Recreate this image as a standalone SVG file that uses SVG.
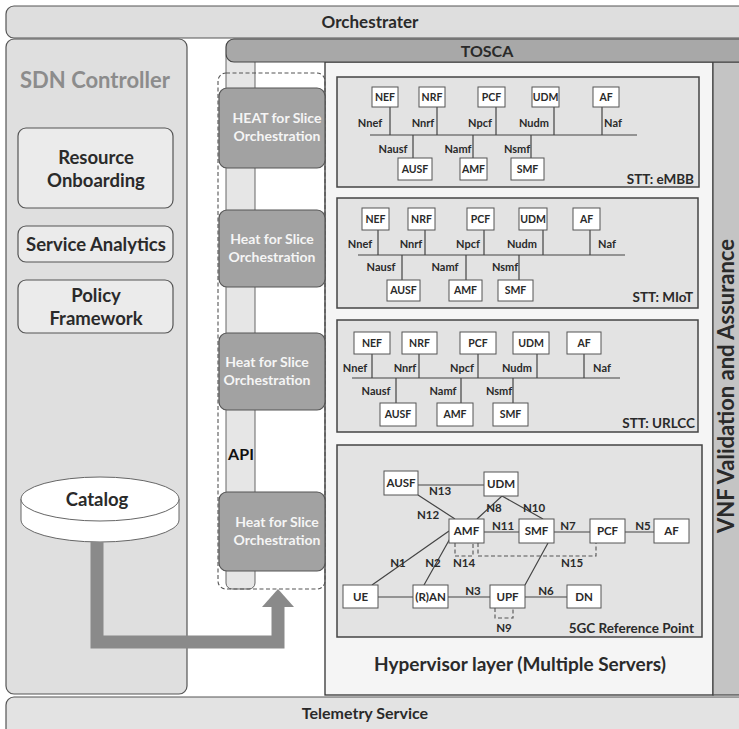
<svg xmlns="http://www.w3.org/2000/svg" width="739" height="729" viewBox="0 0 739 729">
<defs>
<style>
text{font-family:Lato,"Open Sans","Liberation Sans",sans-serif;font-weight:700;text-anchor:middle;fill:#2a2a2a;stroke:none}
.bar{fill:#dedede;stroke:#555;stroke-width:1.2}
.sdn{fill:#dfdfdf;stroke:#555;stroke-width:1.2}
.inbox{fill:#ebebeb;stroke:#555;stroke-width:1.2}
.heat rect{fill:#a2a2a2;stroke:#555;stroke-width:1.2}
.heat text{fill:#f5f5f5;font-size:14px}
.slice{fill:#e3e3e3;stroke:#444;stroke-width:1.5}
.nf{fill:#fff;stroke:#555;stroke-width:1}
.nft{font-size:10.5px}
.lbl{font-size:11px}
.ln{stroke:#444;stroke-width:1.2;fill:none}
.dash{stroke:#555;stroke-width:1.1;fill:none;stroke-dasharray:4 2.5}
.stt{font-size:13.5px;text-anchor:end}
.g5 .nft,.g5t{font-size:11.5px}
</style>
</defs>
<rect width="739" height="729" fill="#fff"/>

<g id="orchestrater">
<rect class="bar" x="6" y="6" width="745" height="32" rx="8"/>
<text x="370" y="28" font-size="17">Orchestrater</text>
</g>

<g id="telemetry">
<rect class="bar" x="6" y="697" width="745" height="40" rx="8" style="fill:#e3e3e3"/>
<text x="365" y="719" font-size="16">Telemetry Service</text>
</g>

<g id="sdn-controller">
<rect class="sdn" x="6" y="39" width="181" height="655" rx="8"/>
<text x="95" y="88" font-size="22" style="fill:#8c8c8c">SDN Controller</text>
</g>
<g id="resource-onboarding">
<rect class="inbox" x="18" y="128" width="155" height="80" rx="8"/>
<text x="96" y="164" font-size="18.5">Resource</text>
<text x="96" y="187" font-size="18.5">Onboarding</text>
</g>
<g id="service-analytics">
<rect class="inbox" x="18" y="226" width="155" height="36" rx="8"/>
<text x="96" y="250.5" font-size="18.5">Service Analytics</text>
</g>
<g id="policy-framework">
<rect class="inbox" x="18" y="280" width="155" height="53" rx="8"/>
<text x="96" y="301.5" font-size="18.5">Policy</text>
<text x="96" y="324.5" font-size="18.5">Framework</text>
</g>
<g id="catalog">
<path d="M21,499 V520 A79,22 0 0 0 179,520 V499" fill="#fff" stroke="#666" stroke-width="1"/>
<ellipse cx="100" cy="499" rx="79" ry="22" fill="#fff" stroke="#666" stroke-width="1"/>
<text x="97" y="506" font-size="18.5">Catalog</text>
</g>

<g id="api">
<rect x="226" y="50" width="29" height="539" rx="6" fill="#e6e6e6" stroke="#666" stroke-width="1"/>
<text x="241" y="460" font-size="16" style="fill:#111">API</text>
</g>

<g id="hypervisor">
<rect x="325" y="62" width="388" height="633" fill="#f5f5f5" stroke="#333" stroke-width="1.3"/>
<text x="520" y="671" font-size="19">Hypervisor layer (Multiple Servers)</text>
</g>

<g id="vnf">
<rect x="713" y="62" width="30" height="633" fill="#c4c4c4" stroke="#444" stroke-width="1.2"/>
<text transform="translate(734,386) rotate(-90)" font-size="22">VNF Validation and Assurance</text>
</g>

<g id="tosca">
<rect x="226" y="39" width="525" height="23" rx="8" fill="#a8a8a8" stroke="#444" stroke-width="1.2"/>
<text x="487" y="57" font-size="16">TOSCA</text>
</g>

<rect id="heat-group" x="218" y="73" width="107" height="516" rx="8" class="dash"/>

<g id="heat1" class="heat">
<rect x="219" y="88" width="106" height="80" rx="8"/>
<text x="277" y="123">HEAT for Slice</text>
<text x="277" y="141">Orchestration</text>
</g>
<g id="heat2" class="heat">
<rect x="219" y="210" width="106" height="77" rx="8"/>
<text x="272" y="244">Heat for Slice</text>
<text x="272" y="262">Orchestration</text>
</g>
<g id="heat3" class="heat">
<rect x="219" y="333" width="106" height="77" rx="8"/>
<text x="267" y="367">Heat for Slice</text>
<text x="267" y="385">Orchestration</text>
</g>
<g id="heat4" class="heat">
<rect x="219" y="492" width="106" height="79" rx="8"/>
<text x="277" y="527">Heat for Slice</text>
<text x="277" y="545">Orchestration</text>
</g>

<g id="catalog-arrow">
<path d="M97,542 V642 H278 V605" fill="none" stroke="#8a8a8a" stroke-width="13"/>
<polygon points="262,607 294,607 278,589" fill="#8a8a8a"/>
</g>

<!-- eMBB slice -->
<g id="slice-embb">
<rect class="slice" x="337" y="77" width="362" height="110"/>
<text class="stt" x="694" y="184">STT: eMBB</text>
</g>
<g id="embb-connectors">
<path class="ln" d="M370,135 H637 M390,107 V135 M437,107 V135 M496,107 V135 M554,107 V135 M602,107 V135 M413,135 V158 M473,135 V158 M531,135 V158"/>
<text class="lbl" x="370" y="127">Nnef</text><text class="lbl" x="423" y="127">Nnrf</text><text class="lbl" x="480" y="127">Npcf</text><text class="lbl" x="534" y="127">Nudm</text><text class="lbl" x="613" y="127">Naf</text>
<text class="lbl" x="393" y="153">Nausf</text><text class="lbl" x="458" y="153">Namf</text><text class="lbl" x="517" y="153">Nsmf</text>
</g>
<g id="embb-nef"><rect class="nf" x="372" y="87" width="26" height="20"/><text class="nft" x="385" y="100.5">NEF</text></g>
<g id="embb-nrf"><rect class="nf" x="419" y="87" width="26" height="20"/><text class="nft" x="432" y="100.5">NRF</text></g>
<g id="embb-pcf"><rect class="nf" x="478" y="87" width="27" height="20"/><text class="nft" x="491.5" y="100.5">PCF</text></g>
<g id="embb-udm"><rect class="nf" x="532" y="87" width="27" height="20"/><text class="nft" x="545.5" y="100.5">UDM</text></g>
<g id="embb-af"><rect class="nf" x="593" y="87" width="26" height="20"/><text class="nft" x="606" y="100.5">AF</text></g>
<g id="embb-ausf"><rect class="nf" x="398" y="158" width="34" height="22"/><text class="nft" x="415" y="172.5">AUSF</text></g>
<g id="embb-amf"><rect class="nf" x="460" y="158" width="27" height="22"/><text class="nft" x="473.5" y="172.5">AMF</text></g>
<g id="embb-smf"><rect class="nf" x="511" y="158" width="33" height="22"/><text class="nft" x="527.5" y="172.5">SMF</text></g>

<!-- MIoT slice -->
<g id="slice-miot">
<rect class="slice" x="337" y="198" width="361" height="110"/>
<text class="stt" x="693" y="302">STT: MIoT</text>
</g>
<g id="miot-connectors">
<path class="ln" d="M358,255 H625 M378,230 V255 M425,230 V255 M484,230 V255 M543,230 V255 M590,230 V255 M402,255 V280 M466,255 V280 M519,255 V280"/>
<text class="lbl" x="360" y="247.5">Nnef</text><text class="lbl" x="411" y="247.5">Nnrf</text><text class="lbl" x="468" y="247.5">Npcf</text><text class="lbl" x="522" y="247.5">Nudm</text><text class="lbl" x="607" y="247.5">Naf</text>
<text class="lbl" x="381" y="270.5">Nausf</text><text class="lbl" x="445" y="270.5">Namf</text><text class="lbl" x="505" y="270.5">Nsmf</text>
</g>
<g id="miot-nef"><rect class="nf" x="362" y="208" width="27" height="22"/><text class="nft" x="375.5" y="222.5">NEF</text></g>
<g id="miot-nrf"><rect class="nf" x="408" y="208" width="27" height="22"/><text class="nft" x="421.5" y="222.5">NRF</text></g>
<g id="miot-pcf"><rect class="nf" x="467" y="208" width="27" height="22"/><text class="nft" x="480.5" y="222.5">PCF</text></g>
<g id="miot-udm"><rect class="nf" x="519" y="208" width="28" height="22"/><text class="nft" x="533" y="222.5">UDM</text></g>
<g id="miot-af"><rect class="nf" x="573" y="208" width="27" height="22"/><text class="nft" x="586.5" y="222.5">AF</text></g>
<g id="miot-ausf"><rect class="nf" x="387" y="280" width="33" height="21"/><text class="nft" x="403.5" y="294">AUSF</text></g>
<g id="miot-amf"><rect class="nf" x="449" y="280" width="33" height="21"/><text class="nft" x="465.5" y="294">AMF</text></g>
<g id="miot-smf"><rect class="nf" x="498" y="280" width="35" height="21"/><text class="nft" x="515.5" y="294">SMF</text></g>

<!-- URLCC slice -->
<g id="slice-urlcc">
<rect class="slice" x="337" y="320" width="361" height="112"/>
<text class="stt" x="695" y="428">STT: URLCC</text>
</g>
<g id="urlcc-connectors">
<path class="ln" d="M352,378 H620 M372,354 V378 M419,354 V378 M478,354 V378 M537,354 V378 M584,354 V378 M396,378 V403 M461,378 V403 M513,378 V403"/>
<text class="lbl" x="355" y="371.5">Nnef</text><text class="lbl" x="405" y="371.5">Nnrf</text><text class="lbl" x="462" y="371.5">Npcf</text><text class="lbl" x="517" y="371.5">Nudm</text><text class="lbl" x="602" y="371.5">Naf</text>
<text class="lbl" x="376" y="394.5">Nausf</text><text class="lbl" x="443" y="394.5">Namf</text><text class="lbl" x="499" y="394.5">Nsmf</text>
</g>
<g id="urlcc-nef"><rect class="nf" x="354" y="332" width="36" height="22"/><text class="nft" x="372" y="346.5">NEF</text></g>
<g id="urlcc-nrf"><rect class="nf" x="402" y="332" width="35" height="22"/><text class="nft" x="419.5" y="346.5">NRF</text></g>
<g id="urlcc-pcf"><rect class="nf" x="460" y="332" width="36" height="22"/><text class="nft" x="478" y="346.5">PCF</text></g>
<g id="urlcc-udm"><rect class="nf" x="513" y="332" width="36" height="22"/><text class="nft" x="531" y="346.5">UDM</text></g>
<g id="urlcc-af"><rect class="nf" x="567" y="332" width="34" height="22"/><text class="nft" x="584" y="346.5">AF</text></g>
<g id="urlcc-ausf"><rect class="nf" x="380" y="403" width="36" height="23"/><text class="nft" x="398" y="418">AUSF</text></g>
<g id="urlcc-amf"><rect class="nf" x="437" y="403" width="36" height="23"/><text class="nft" x="455" y="418">AMF</text></g>
<g id="urlcc-smf"><rect class="nf" x="493" y="403" width="35" height="23"/><text class="nft" x="510.5" y="418">SMF</text></g>

<!-- 5GC reference point -->
<g id="slice-5gc">
<rect class="slice" x="337" y="445" width="365" height="192"/>
<text class="stt" x="694" y="633" font-size="14">5GC Reference Point</text>
</g>
<g id="ref-connectors" class="g5">
<path class="ln" d="M418,485 H484 M418,495 L455,519 M502,496 L477,519 M502,496 L543,519 M484,532 H519 M554,532 H590 M625,532 H654 M449,531 L372,585 M452,535 L424,585 M378,597 H413 M448,597 H490 M525,597 H567 M548,543 L525,585"/>
<path class="dash" d="M455,543 V556 H473 V543 M478,543 V556 H596 V543 M495,608 V618 H513 V608"/>
<text class="g5t" x="440" y="495">N13</text><text class="g5t" x="428" y="519">N12</text><text class="g5t" x="494" y="512">N8</text><text class="g5t" x="534" y="512">N10</text>
<text class="g5t" x="503" y="530">N11</text><text class="g5t" x="568" y="530">N7</text><text class="g5t" x="643" y="530">N5</text>
<text class="g5t" x="398" y="567">N1</text><text class="g5t" x="433" y="567">N2</text><text class="g5t" x="464" y="567">N14</text><text class="g5t" x="572" y="567">N15</text>
<text class="g5t" x="473" y="595">N3</text><text class="g5t" x="546" y="595">N6</text><text class="g5t" x="504" y="632">N9</text>
</g>
<g id="ref-ausf" class="g5"><rect class="nf" x="384" y="471" width="34" height="24"/><text class="nft" x="401" y="487">AUSF</text></g>
<g id="ref-udm" class="g5"><rect class="nf" x="484" y="472" width="34" height="24"/><text class="nft" x="501" y="488">UDM</text></g>
<g id="ref-amf" class="g5"><rect class="nf" x="449" y="519" width="35" height="24"/><text class="nft" x="466.5" y="535">AMF</text></g>
<g id="ref-smf" class="g5"><rect class="nf" x="519" y="519" width="35" height="24"/><text class="nft" x="536.5" y="535">SMF</text></g>
<g id="ref-pcf" class="g5"><rect class="nf" x="590" y="519" width="35" height="24"/><text class="nft" x="607.5" y="535">PCF</text></g>
<g id="ref-af" class="g5"><rect class="nf" x="654" y="519" width="35" height="24"/><text class="nft" x="671.5" y="535">AF</text></g>
<g id="ref-ue" class="g5"><rect class="nf" x="343" y="585" width="35" height="23"/><text class="nft" x="360.5" y="600.5">UE</text></g>
<g id="ref-ran" class="g5"><rect class="nf" x="413" y="585" width="35" height="23"/><text class="nft" x="430.5" y="600.5">(R)AN</text></g>
<g id="ref-upf" class="g5"><rect class="nf" x="490" y="585" width="35" height="23"/><text class="nft" x="507.5" y="600.5">UPF</text></g>
<g id="ref-dn" class="g5"><rect class="nf" x="567" y="585" width="34" height="23"/><text class="nft" x="584" y="600.5">DN</text></g>
</svg>
